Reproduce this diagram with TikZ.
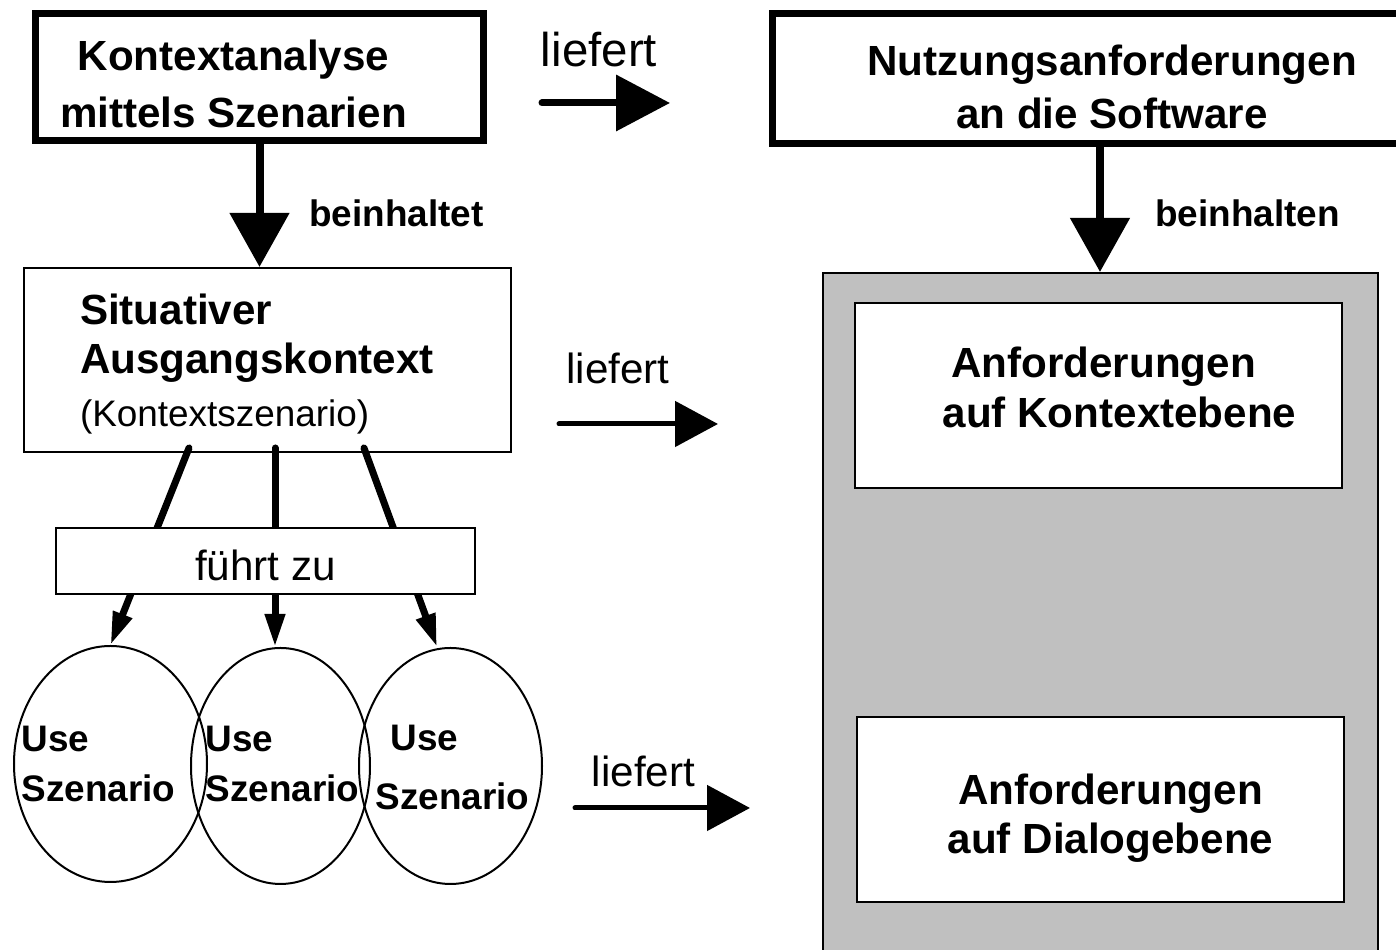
\documentclass[tikz,border=0pt]{standalone}
\usepackage{fontspec}
\setmainfont{Liberation Sans}
\usetikzlibrary{arrows.meta,shapes.geometric,positioning}
\definecolor{reqgray}{RGB}{192,192,192}

\begin{document}
\begin{tikzpicture}[
    mainbox/.style={rectangle, draw, line width=0.07cm, align=center, inner sep=0pt, font=\fontsize{12}{14.5}\selectfont\bfseries},
    infobox/.style={rectangle, draw, line width=0.02cm, fill=white, minimum width=4.87cm, minimum height=1.85cm, inner sep=0pt, align=center, font=\fontsize{12}{14.2}\selectfont\bfseries},
    scen/.style={ellipse, draw, line width=0.02cm, inner sep=0pt},
    scenlbl/.style={align=left, inner sep=0pt, font=\fontsize{10.5}{14.2}\selectfont\bfseries},
    relation/.style={font=\fontsize{10.5}{12}\selectfont\bfseries},
    delivers/.style={font=\fontsize{12}{14}\selectfont},
    bigarrow/.style={line width=0.08cm, -{Triangle[length=0.54cm, width=0.58cm]}},
    arrow/.style={line width=0.05cm, line cap=round, -{Triangle[length=0.43cm, width=0.45cm]}},
    fan/.style={line width=0.07cm, line cap=round, -{Triangle[length=0.33cm, width=0.19cm]}}
]
    \useasboundingbox (0,0) rectangle (13.96,9.5);
    \clip (0,0) rectangle (13.96,9.5);

    % Kontextanalyse
    \node[mainbox, minimum width=4.48cm, minimum height=1.27cm] (analyse) at (2.595,8.73)
        {\rule{0pt}{0.45cm}Kontextanalyse\hspace*{0.52cm}\\[1.7pt]mittels Szenarien\hspace*{0.52cm}};

    % Nutzungsanforderungen
    \node[mainbox, minimum width=6.8cm, minimum height=1.30cm] (nutzung) at (11.12,8.715)
        {\rule{0pt}{0.47cm}Nutzungsanforderungen\\[0.6pt]an die Software};

    % Situativer Ausgangskontext
    \node[infobox, text width=3.75cm, inner xsep=0.56cm, minimum height=1.84cm, align=left] (situation) at (2.675,5.90)
        {\rule{0pt}{0.39cm}Situativer\\[-0.5pt]Ausgangskontext\\[1pt]{\fontsize{10.5}{12}\selectfont\mdseries (Kontextszenario)}};

    % Use Szenarien
    \node[scen, minimum width=1.93cm, minimum height=2.36cm] (uc1) at (1.105,1.86) {};
    \node[scen, minimum width=1.79cm, minimum height=2.36cm] (uc2) at (2.805,1.84) {};
    \node[scen, minimum width=1.83cm, minimum height=2.36cm] (uc3) at (4.505,1.84) {};
    \node[scenlbl, anchor=west] (uc1lbl) at (0.21,1.86) {Use\\Szenario};
    \node[scenlbl, anchor=west] (uc2lbl) at (2.05,1.86) {Use\\Szenario};
    \node[scenlbl, anchor=west] (uc3lbl) at (3.75,1.825) {\hspace*{0.15cm}Use\\[0.09cm]Szenario};

    % fuehrt zu
    \coordinate (fan2) at ([xshift=0.075cm,yshift=0.05cm]situation.south);
    \draw[fan] ([xshift=-0.785cm,yshift=0.05cm]situation.south) -- (uc1.north);
    \draw[fan] (fan2) -- (fan2 |- uc2.north);
    \draw[fan] ([xshift=0.965cm,yshift=0.05cm]situation.south) -- ([xshift=-0.135cm]uc3.north);
    \node[infobox, font=\fontsize{12}{14}\selectfont, minimum width=4.19cm, minimum height=0.66cm] (leads) at (2.655,3.89) {\rule{0pt}{0.4cm}führt zu};

    % Anforderungen
    \node[draw, line width=0.02cm, fill=reqgray, minimum width=5.55cm, minimum height=7.2cm, anchor=north] (reqarea) at (11.0,6.78) {};
    \node[infobox] (ctxreq) at (10.985,5.545)
        {\hspace*{0.1cm}Anforderungen\\\hspace*{0.42cm}auf Kontextebene\rule[-0.16cm]{0pt}{0.16cm}};
    \node[infobox] (dlgreq) at (11.005,1.40)
        {\rule{0pt}{0.47cm}\hspace*{0.2cm}Anforderungen\\\hspace*{0.2cm}auf Dialogebene};

    % beinhaltet / beinhalten
    \draw[bigarrow] (analyse.south) -- (analyse.south |- situation.north);
    \draw[bigarrow] (reqarea.north |- nutzung.south) -- (reqarea.north);
    \node[relation] (contains1) at (3.965,7.37) {beinhaltet};
    \node[relation] (contains2) at (12.475,7.37) {beinhalten};

    % liefert
    \coordinate (out1) at (5.42,8.47);
    \coordinate (in1) at (6.70,8.47);
    \draw[arrow, line width=0.07cm, -{Triangle[length=0.54cm, width=0.55cm]}] (out1) -- (in1);
    \node[delivers, font=\fontsize{13.5}{16}\selectfont] (del1) at (5.99,9.0) {liefert};

    \coordinate (out2) at (5.59,5.26);
    \coordinate (in2) at (7.18,5.26);
    \draw[arrow] (out2) -- (in2);
    \node[delivers] (del2) at (6.18,5.82) {liefert};

    \coordinate (out3) at (5.75,1.42);
    \coordinate (in3) at (7.50,1.42);
    \draw[arrow] (out3) -- (in3);
    \node[delivers] (del3) at (6.435,1.785) {liefert};
\end{tikzpicture}
\end{document}
